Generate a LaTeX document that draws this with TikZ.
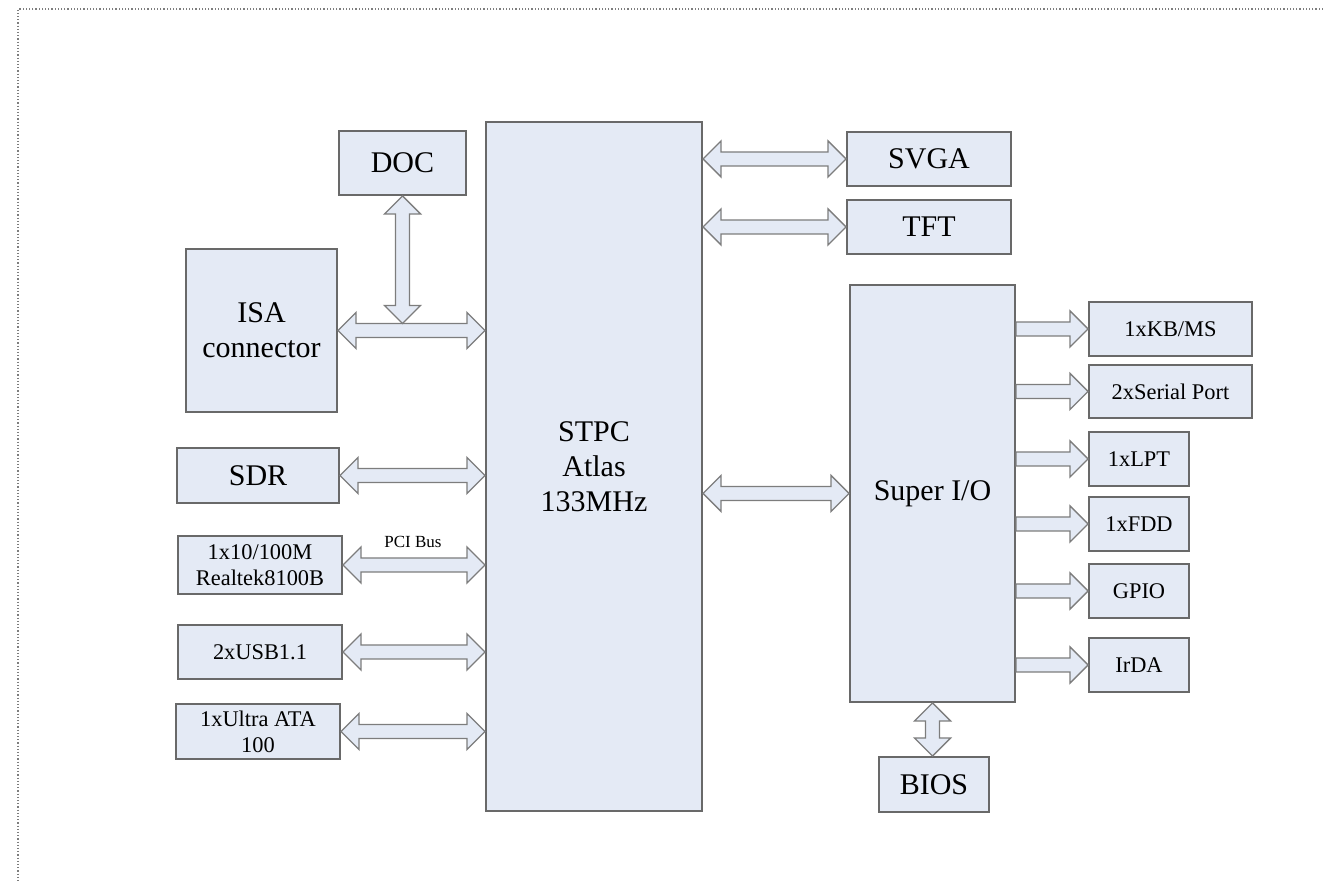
\documentclass[tikz,border=0pt]{standalone}
\usepackage{fontspec}
\setmainfont{Liberation Serif}
\usetikzlibrary{calc}
\definecolor{boxfill}{RGB}{228,234,245}
\definecolor{boxgray}{RGB}{105,105,105}
\definecolor{arrowgray}{RGB}{125,125,125}
\tikzset{
    plain-box/.style = {draw=boxgray, fill=boxfill, line width=1pt, rectangle, inner sep=0pt, align=center},
    big-text/.style = {font=\fontsize{15}{17.5}\selectfont},
    small-text/.style = {font=\fontsize{11.2}{13}\selectfont},
    bus-arrow/.style = {draw=arrowgray, fill=boxfill, line width=0.7pt, line join=miter},
}
\newcommand{\busH}[2]{\draw[bus-arrow] let \p1=(#1), \p2=(#2) in
    (\x1,\y1) -- ++(9pt,9pt) -- ++(0,-5.5pt) -- (\x2-9pt,\y1+3.5pt) -- ++(0,5.5pt) -- (\x2,\y1)
    -- ++(-9pt,-9pt) -- ++(0,5.5pt) -- (\x1+9pt,\y1-3.5pt) -- ++(0,-5.5pt) -- cycle;}
\newcommand{\busV}[2]{\draw[bus-arrow] let \p1=(#1), \p2=(#2) in
    (\x1,\y1) -- ++(9pt,-9pt) -- ++(-5.5pt,0) -- (\x1+3.5pt,\y2+9pt) -- ++(5.5pt,0) -- (\x1,\y2)
    -- ++(-9pt,9pt) -- ++(5.5pt,0) -- (\x1-3.5pt,\y1-9pt) -- ++(-5.5pt,0) -- cycle;}
\newcommand{\busOut}[2]{\draw[bus-arrow] let \p1=(#1), \p2=(#2) in
    (\x1,\y1+3.5pt) -- (\x2-9pt,\y1+3.5pt) -- ++(0,5.5pt) -- (\x2,\y1)
    -- ++(-9pt,-9pt) -- ++(0,5.5pt) -- (\x1,\y1-3.5pt) -- cycle;}

\begin{document}
\begin{tikzpicture}[x=0.5pt, y=-0.5pt]
\useasboundingbox (0,0) rectangle (1323,881);
\draw[arrowgray, densely dotted, line width=0.6pt] (1323,9) -- (18,9) -- (18,881);

\node[plain-box, big-text, minimum width=108pt, minimum height=344.5pt] (stpc) at (594,466.5) {STPC\\Atlas\\133MHz};
\node[plain-box, big-text, minimum width=63.5pt, minimum height=32pt] (doc) at (402.5,163) {DOC};
\node[plain-box, big-text, minimum width=75.5pt, minimum height=81.5pt] (isa) at (261.5,330.5) {ISA\\connector};
\node[plain-box, big-text, minimum width=81pt, minimum height=27.5pt] (sdr) at (258,475.5) {SDR};
\node[plain-box, small-text, minimum width=82pt, minimum height=29pt] (lan) at (260,565) {1x10/100M\\Realtek8100B};
\node[plain-box, small-text, minimum width=82pt, minimum height=27pt] (usb) at (260,652) {2xUSB1.1};
\node[plain-box, small-text, minimum width=82pt, minimum height=27.5pt] (ata) at (258,731.5) {1xUltra ATA\\100};

\node[plain-box, big-text, minimum width=82pt, minimum height=27pt] (svga) at (929,159) {SVGA};
\node[plain-box, big-text, minimum width=82pt, minimum height=27pt] (tft) at (929,227) {TFT};
\node[plain-box, big-text, minimum width=82.5pt, minimum height=208.5pt] (super) at (932.5,493.5) {Super I/O};
\node[plain-box, big-text, minimum width=55pt, minimum height=27.5pt] (bios) at (934,784.5) {BIOS};

\node[plain-box, small-text, minimum width=81.5pt, minimum height=27pt] (kbms) at (1170.5,329) {1xKB/MS};
\node[plain-box, small-text, minimum width=81.5pt, minimum height=26.5pt] (serial) at (1170.5,391.5) {2xSerial Port};
\node[plain-box, small-text, minimum width=50pt, minimum height=27pt] (lpt) at (1139,459) {1xLPT};
\node[plain-box, small-text, minimum width=50pt, minimum height=27pt] (fdd) at (1139,524) {1xFDD};
\node[plain-box, small-text, minimum width=50pt, minimum height=27pt] (gpio) at (1139,591) {GPIO};
\node[plain-box, small-text, minimum width=50pt, minimum height=27pt] (irda) at (1139,665) {IrDA};

\node[font=\fontsize{8.5}{10}\selectfont] (pci-label) at (413,542) {PCI Bus};

\coordinate (isa-bus) at ($(doc.south |- isa.east)+(0,3.5pt)$);
\foreach \b in {isa,sdr,lan,usb,ata} \busH{\b.east}{stpc.west |- \b.east};
\busV{doc.south}{isa-bus}
\busH{stpc.east |- svga.west}{svga.west}
\busH{stpc.east |- tft.west}{tft.west}
\busH{stpc.east |- super.west}{super.west}
\foreach \b in {kbms,serial,lpt,fdd,gpio,irda} \busOut{super.east |- \b.west}{\b.west};
\busV{super.south}{bios.north}
\end{tikzpicture}
\end{document}
